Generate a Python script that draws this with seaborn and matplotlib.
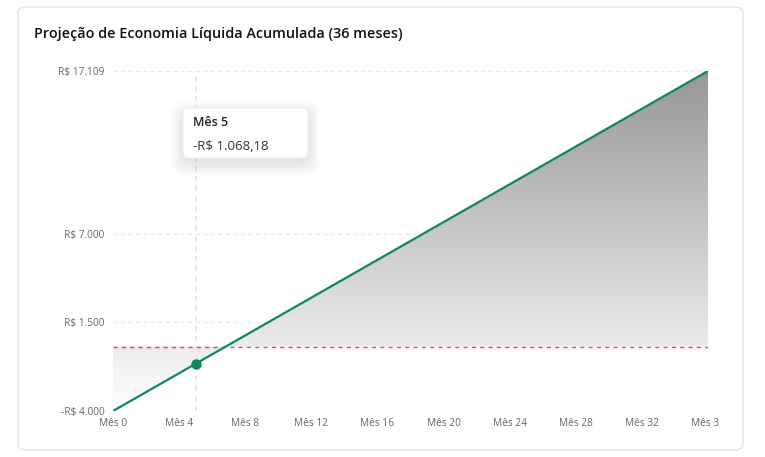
import numpy as np
import pandas as pd
import matplotlib
matplotlib.use("Agg")
import matplotlib.pyplot as plt
import seaborn as sns
from matplotlib.patches import FancyBboxPatch
from matplotlib.transforms import Bbox, TransformedBbox

# ---------------- data ----------------
meses = list(range(0, 37))
economia = [-4000.00, -3413.64, -2827.27, -2240.91, -1654.55, -1068.18, -481.82,
            104.55, 690.91, 1277.27, 1863.64, 2450.00, 3036.36, 3622.73, 4209.09,
            4795.45, 5381.82, 5968.18, 6554.55, 7140.91, 7727.27, 8313.64, 8900.00,
            9486.36, 10072.73, 10659.09, 11245.45, 11831.82, 12418.18, 13004.55,
            13590.91, 14177.27, 14763.64, 15350.00, 15936.36, 16522.73, 17109.09]
y_ticks = [-4000, 1500, 7000, 17109]
y_labels = ["-R$ 4.000", "R$ 1.500", "R$ 7.000", "R$ 17.109"]
x_ticks = [0, 4, 8, 12, 16, 20, 24, 28, 32, 36]
x_labels = [f"Mês {m}" for m in x_ticks]
mes_destaque = 5
titulo = "Projeção de Economia Líquida Acumulada (36 meses)"
tooltip_titulo = "Mês 5"
tooltip_valor = "-R$ 1.068,18"

df = pd.DataFrame({"mes": meses, "valor": economia})

sns.set_style("white")
plt.rcParams["font.family"] = ["Open Sans", "DejaVu Sans"]

W, H = 765, 457
fig = plt.figure(figsize=(W / 100, H / 100), dpi=100)

# card background (drawn below the axes)
card = FancyBboxPatch((18 / W, 7 / H), 725 / W, 443 / H,
                      boxstyle="round,pad=0,rounding_size=0.012",
                      transform=fig.transFigure, facecolor="white",
                      edgecolor="#e3e3e3", linewidth=1.0, zorder=-5)
fig.patches.append(card)

fig.text(34 / W, 1 - 34 / H, titulo, fontsize=10.4, fontweight="semibold",
         color="#111111", va="center", ha="left")

ax = fig.add_axes([113 / W, 46 / H, 595 / W, 340 / H])
ax.set_facecolor("none")
ymin, ymax = -4000, 17109
ax.set_xlim(0, 36)
ax.set_ylim(ymin, ymax)

# gradient fill between the line and zero
fill = ax.fill_between(df["mes"], df["valor"], 0, color="none", linewidth=0)
grad = np.linspace(1, 0, 256).reshape(-1, 1)
cmap = matplotlib.colors.LinearSegmentedColormap.from_list("g", ["#ffffff", "#979797"])
img = ax.imshow(grad, extent=[0, 36, ymin, ymax], aspect="auto", cmap=cmap,
                vmin=0, vmax=1, zorder=1, origin="upper")
img.set_clip_path(fill.get_paths()[0], transform=ax.transData)

# grid
for yt in y_ticks:
    ax.axhline(yt, color="#e8e8e8", linestyle=(0, (3, 3)), linewidth=0.9, zorder=0.5)
ax.axvline(mes_destaque, color="#e4e4e4", linestyle=(0, (3, 3)), linewidth=1.2, zorder=0.6)
ax.axhline(0, color="#e04848", linestyle=(0, (3, 3)), linewidth=1.0, zorder=2)

sns.lineplot(data=df, x="mes", y="valor", color="#10875c", linewidth=1.6, ax=ax, zorder=3)
ax.plot(df["mes"][mes_destaque], df["valor"][mes_destaque], "o", color="#10875c",
        markersize=6.5, zorder=4)

ax.set_xticks(x_ticks)
ax.set_xticklabels(x_labels)
ax.set_yticks(y_ticks)
ax.set_yticklabels(y_labels)
ax.tick_params(axis="both", length=0, labelsize=7.3, labelcolor="#666666")
ax.tick_params(axis="x", pad=5)
ax.tick_params(axis="y", pad=6)
ax.set_xlabel("")
ax.set_ylabel("")
sns.despine(ax=ax, left=True, bottom=True)

# clip last tick label like the original
clip = TransformedBbox(Bbox([[0, 0], [719 / W, 1]]), fig.transFigure)
for lbl in ax.get_xticklabels():
    lbl.set_clip_box(clip)
    lbl.set_clip_on(True)

# tooltip with soft shadow
bx, by, bw, bh = 183 / W, 1 - 158 / H, 125 / W, 50 / H
for i in range(12):
    s = 12 - i
    sh = FancyBboxPatch((bx - s / W, by - (s + 5) / H), bw + 2 * s / W, bh + 2 * s / H,
                        boxstyle="round,pad=0,rounding_size=0.02",
                        transform=fig.transFigure, facecolor="#000000",
                        edgecolor="none", alpha=0.006, zorder=9)
    fig.patches.append(sh)
tip = FancyBboxPatch((bx, by), bw, bh, boxstyle="round,pad=0,rounding_size=0.01",
                     transform=fig.transFigure, facecolor="white",
                     edgecolor="#eeeeee", linewidth=0.8, zorder=10)
fig.patches.append(tip)
fig.text(193 / W, 1 - 122 / H, tooltip_titulo, fontsize=9, fontweight="semibold",
         color="#222222", va="center", ha="left", zorder=11)
fig.text(193 / W, 1 - 146 / H, tooltip_valor, fontsize=9.5,
         color="#333333", va="center", ha="left", zorder=11)

fig.savefig("out.png", dpi=100, facecolor="white")
